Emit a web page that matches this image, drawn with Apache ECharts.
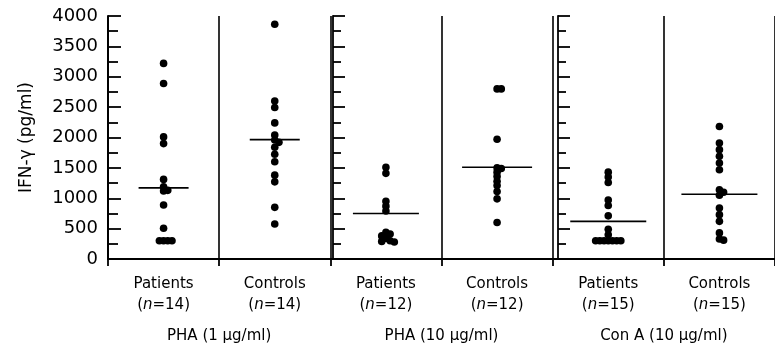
<!DOCTYPE html>
<html>
<head>
<meta charset="utf-8">
<script src="https://cdn.jsdelivr.net/npm/echarts@6/dist/echarts.min.js"></script>
<style>html,body{margin:0;padding:0;background:#fff}#c{width:775px;height:352px}</style>
</head>
<body>
<div id="c"></div>
<script>
// ---- data ----
var categories = ['Patients', 'Controls', 'Patients', 'Controls', 'Patients', 'Controls'];
var sampleSizes = [14, 14, 12, 12, 15, 15];
var stimuli = ['PHA (1 \u03bcg/ml)', 'PHA (10 \u03bcg/ml)', 'Con A (10 \u03bcg/ml)'];
var yTicks = [0, 500, 1000, 1500, 2000, 2500, 3000, 3500, 4000];

var pha1Patients  = [3220, 2890, 2010, 1900, 1310, 1190, 1130, 1120, 890, 505, 300, 300, 300, 300];
var pha1Controls  = [3865, 2600, 2495, 2240, 2040, 1960, 1920, 1840, 1725, 1600, 1380, 1270, 850, 575];
var pha10Patients = [1510, 1410, 950, 870, 790, 440, 410, 380, 340, 300, 290, 280];
var pha10Controls = [2800, 2800, 1970, 1500, 1490, 1430, 1360, 1280, 1210, 1110, 990, 600];
var conAPatients  = [1430, 1350, 1260, 970, 880, 710, 490, 400, 300, 300, 300, 300, 300, 300, 300];
var conAControls  = [2180, 1910, 1800, 1690, 1580, 1470, 1140, 1100, 1050, 840, 730, 620, 430, 330, 310];
var medians = [1170, 1965, 750, 1510, 620, 1065];

var groups = [pha1Patients, pha1Controls, pha10Patients, pha10Controls, conAPatients, conAControls];

// ---- chart ----
var FONT = 'DejaVu Sans';
var GL = 108, GT = 16, GW = 675, GH = 243;
var medianHalf = [25, 25, 33, 35, 38, 38];
var R = 3.8, STEP = 4.2, MIND = 4.0;

var chart = echarts.init(document.getElementById('c'), null, {renderer: 'canvas'});

function sepY(gridIndex) {
  return {
    gridIndex: gridIndex, type: 'value', min: 0, max: 4000, interval: 500, position: 'left',
    axisLine: {show: true, lineStyle: {color: '#000', width: 1.8}},
    axisTick: {show: true, inside: true, length: 12, lineStyle: {color: '#000', width: 1.8}},
    minorTick: {show: true, splitNumber: 2, length: 8, lineStyle: {color: '#000', width: 1.8}},
    axisLabel: {show: false}, splitLine: {show: false}
  };
}

var option = {
  backgroundColor: '#fff',
  animation: false,
  grid: [
    {left: GL, top: GT, width: GW, height: GH},
    {left: GL, top: GT + GH, width: GW, height: 1},
    {left: GL + GW / 3, top: GT, width: 50, height: GH},
    {left: GL + 2 * GW / 3, top: GT, width: 50, height: GH}
  ],
  xAxis: [
    {
      gridIndex: 0, type: 'category', data: categories, boundaryGap: true,
      axisLine: {show: true, lineStyle: {color: '#000', width: 2}},
      axisTick: {show: true, interval: 0, length: 7, lineStyle: {color: '#000', width: 1.8}},
      splitLine: {show: true, interval: 0, lineStyle: {color: '#000', width: 1.6}},
      axisLabel: {
        interval: 0, margin: 15, color: '#000', fontFamily: FONT, fontSize: 15, lineHeight: 21,
        formatter: function (v, i) {
          return '{t|' + v + '}\n{t|(}{i|n}{t|=' + sampleSizes[i] + ')}';
        },
        rich: {
          t: {fontFamily: FONT, fontSize: 15, color: '#000', lineHeight: 21},
          i: {fontFamily: FONT, fontSize: 15, color: '#000', fontStyle: 'italic', lineHeight: 21}
        }
      }
    },
    {
      gridIndex: 1, type: 'category', data: stimuli, boundaryGap: true,
      axisLine: {show: false}, axisTick: {show: false}, splitLine: {show: false},
      axisLabel: {interval: 0, margin: 69, color: '#000', fontFamily: FONT, fontSize: 15}
    },
    {gridIndex: 2, type: 'value', show: false},
    {gridIndex: 3, type: 'value', show: false}
  ],
  yAxis: [
    {
      gridIndex: 0, type: 'value', min: 0, max: 4000, interval: 500, position: 'left',
      name: 'IFN-\u03b3 (pg/ml)', nameLocation: 'middle', nameGap: 73, nameRotate: 90,
      nameTextStyle: {color: '#000', fontFamily: FONT, fontSize: 17},
      axisLine: {show: true, lineStyle: {color: '#000', width: 2}},
      axisTick: {show: true, inside: true, length: 13, lineStyle: {color: '#000', width: 1.8}},
      minorTick: {show: true, splitNumber: 2, length: 10, lineStyle: {color: '#000', width: 1.8}},
      splitLine: {show: false},
      axisLabel: {
        margin: 10, color: '#000', fontFamily: FONT, fontSize: 18,
        formatter: function (v) { return yTicks.indexOf(v) >= 0 ? String(v) : ''; }
      }
    },
    {gridIndex: 1, type: 'value', show: false},
    sepY(2),
    sepY(3)
  ],
  series: [
    {
      type: 'custom', xAxisIndex: 0, yAxisIndex: 0,
      data: groups.map(function (g, i) { return [i, 0]; }),
      encode: {x: 0, y: 1},
      renderItem: function (params, api) {
        var gi = api.value(0);
        var vals = groups[gi].slice().sort(function (a, b) { return b - a; });
        var placed = [];
        var children = [];
        vals.forEach(function (v) {
          var p = api.coord([gi, v]);
          var off = 0;
          for (var k = 0; k < 60; k++) {
            var cand = k === 0 ? 0 : (k % 2 ? 1 : -1) * Math.ceil(k / 2) * STEP;
            var ok = placed.every(function (q) {
              return Math.hypot(q[0] - (p[0] + cand), q[1] - p[1]) >= MIND;
            });
            if (ok) { off = cand; break; }
          }
          placed.push([p[0] + off, p[1]]);
          children.push({type: 'circle', shape: {cx: p[0] + off, cy: p[1], r: R}, style: {fill: '#000'}});
        });
        return {type: 'group', children: children};
      }
    },
    {
      type: 'custom', xAxisIndex: 0, yAxisIndex: 0,
      data: medians.map(function (m, i) { return [i, m]; }),
      encode: {x: 0, y: 1},
      renderItem: function (params, api) {
        var i = api.value(0);
        var p = api.coord([i, api.value(1)]);
        var h = medianHalf[i];
        return {type: 'line', shape: {x1: p[0] - h, y1: p[1], x2: p[0] + h, y2: p[1]},
                style: {stroke: '#000', lineWidth: 1.6}};
      }
    }
  ]
};
chart.setOption(option);
</script>
</body>
</html>
